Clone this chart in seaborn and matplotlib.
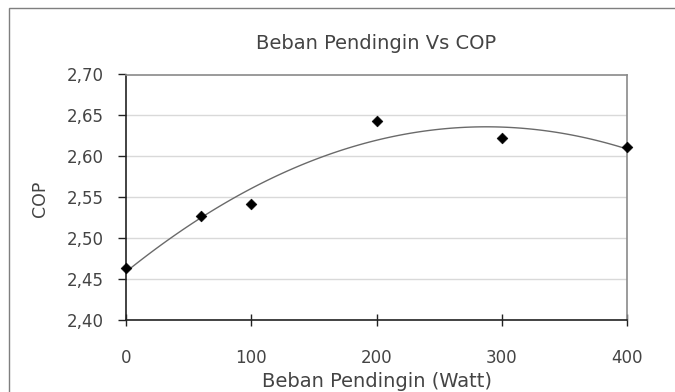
import matplotlib
matplotlib.use("Agg")
import matplotlib.pyplot as plt
from matplotlib.ticker import FuncFormatter, MultipleLocator
from matplotlib.patches import Rectangle
import seaborn as sns
import pandas as pd

beban = [0, 60, 100, 200, 300, 400]
cop = [2.463, 2.527, 2.542, 2.643, 2.622, 2.612]
title = "Beban Pendingin Vs COP"
xlabel = "Beban Pendingin (Watt)"
ylabel = "COP"

df = pd.DataFrame({"beban": beban, "cop": cop})

sns.set_style("white")
plt.rcParams["font.family"] = ["DejaVu Sans"]

fig = plt.figure(figsize=(6.75, 3.92), dpi=100)
fig.patch.set_facecolor("white")
ax = fig.add_axes([126/675, 1-320/392, (627-126)/675, (320-74.5)/392])

# outer chart frame (cut off at right and bottom like the reference)
fig.patches.append(Rectangle((9/675, -0.1), 1.2, 1 - 8/392 + 0.1, transform=fig.transFigure,
                             fill=False, edgecolor="#7f7f7f", linewidth=1.0))

sns.regplot(data=df, x="beban", y="cop", order=2, ci=None, ax=ax,
            scatter=False, truncate=True,
            line_kws=dict(color="#6a6a6a", linewidth=1.0))
sns.scatterplot(data=df, x="beban", y="cop", marker="D", s=30, color="black",
                edgecolor="black", ax=ax, zorder=5, clip_on=False)

ax.set_xlim(0, 400)
ax.set_ylim(2.40, 2.70)
ax.xaxis.set_major_locator(MultipleLocator(100))
ax.yaxis.set_major_locator(MultipleLocator(0.05))
ax.yaxis.set_major_formatter(FuncFormatter(lambda v, p: f"{v:.2f}".replace(".", ",")))
ax.grid(axis="y", color="#d9d9d9", linewidth=1.0)
ax.set_axisbelow(True)

for s in ["left", "bottom"]:
    ax.spines[s].set_color("#222222")
    ax.spines[s].set_linewidth(1.2)
for s in ["top", "right"]:
    ax.spines[s].set_color("#8a8a8a")
    ax.spines[s].set_linewidth(1.2)

ax.tick_params(axis="y", direction="out", length=6, width=1, color="#222222",
               labelsize=12, pad=10, labelcolor="#444444", left=True)
ax.tick_params(axis="x", direction="inout", length=8, width=1, color="#222222",
               labelsize=12, pad=17, labelcolor="#444444", bottom=True)

ax.text(0.5, (320-43.5)/245.5, title, transform=ax.transAxes, ha="center", va="center",
        fontsize=14, color="#444444")
ax.set_xlabel(xlabel, fontsize=14, color="#444444")
ax.xaxis.set_label_coords(0.5, (320-381.5)/245.5)
ax.xaxis.label.set_va("center")
ax.set_ylabel(ylabel, fontsize=12.5, color="#444444")
ax.yaxis.set_label_coords((39.5-126)/501, (320-199)/245.5)
ax.yaxis.label.set_va("center")

fig.savefig("out.png", dpi=100, facecolor="white")
